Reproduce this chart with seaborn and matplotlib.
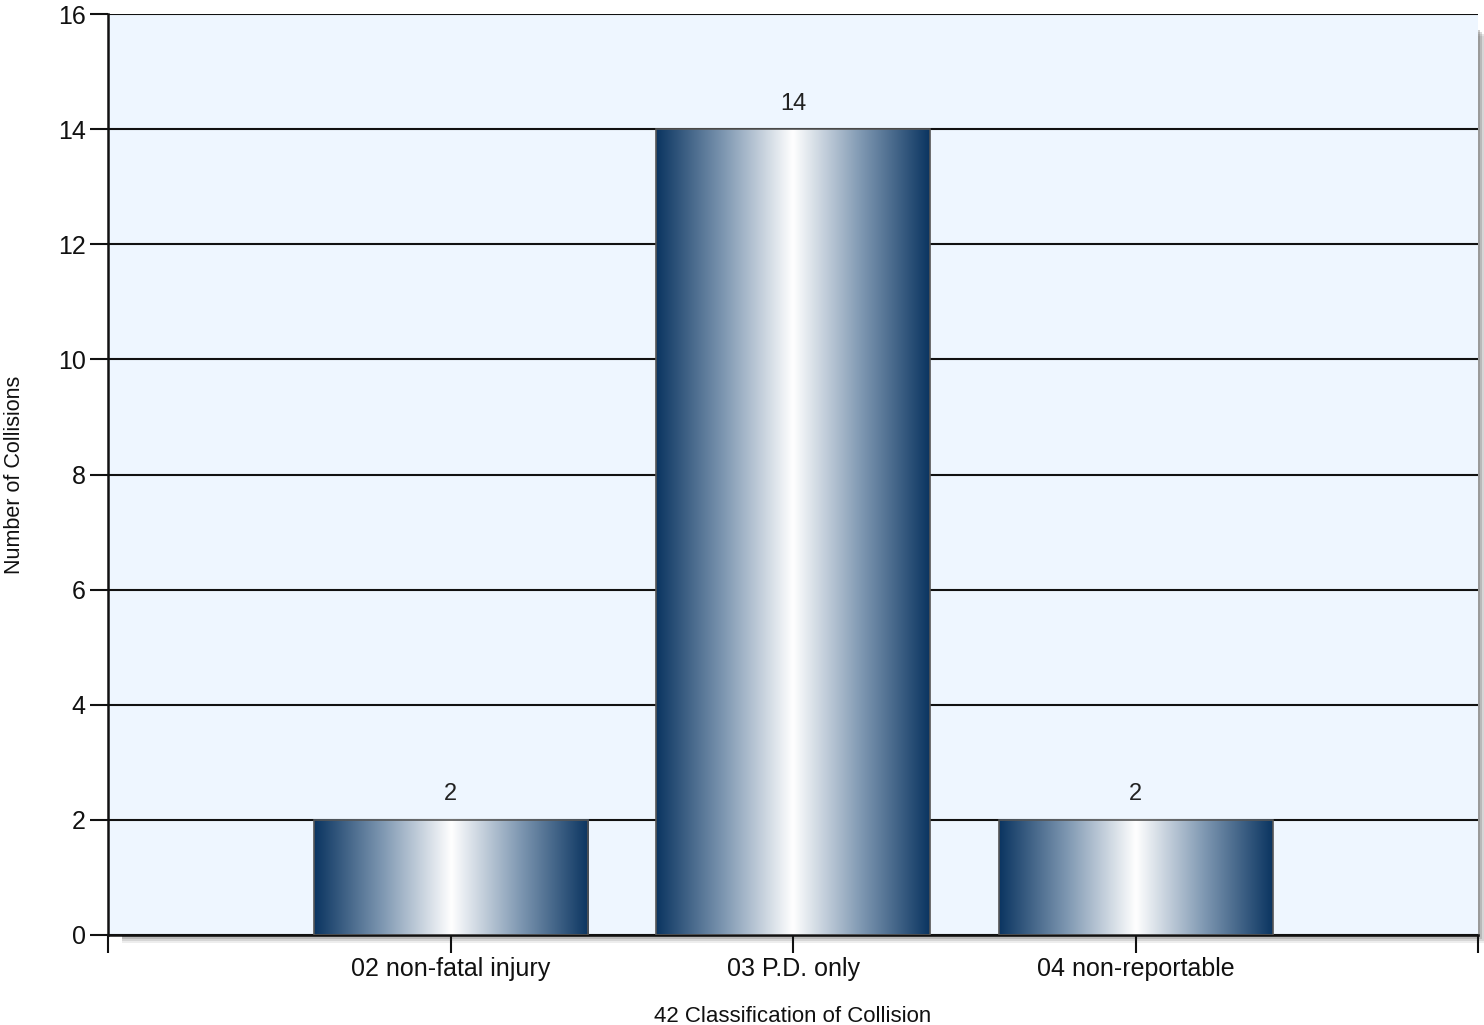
import numpy as np
import matplotlib
matplotlib.use("Agg")
import matplotlib.pyplot as plt
import seaborn as sns
from matplotlib.colors import LinearSegmentedColormap
from matplotlib.patches import Rectangle

categories = ["02 non-fatal injury", "03 P.D. only", "04 non-reportable"]
counts = [2, 14, 2]
y_ticks = [0, 2, 4, 6, 8, 10, 12, 14, 16]

sns.set_style("white")
plt.rcParams["font.family"] = ["Liberation Sans", "DejaVu Sans"]

fig = plt.figure(figsize=(14.84, 10.25), dpi=100)
ax = fig.add_axes([108 / 1484, 90 / 1025, 1370 / 1484, 921 / 1025])
ax.set_facecolor("#eef6ff")

# drop shadow behind plot area
for i, a in enumerate([0.10, 0.15, 0.22, 0.30]):
    off = (8 - 2 * i)
    fig.patches.append(Rectangle(((108 + 14) / 1484, (90 - off) / 1025),
                                 (1370 - 14 + off) / 1484, (921 - 14) / 1025,
                                 transform=fig.transFigure, facecolor="#555555",
                                 alpha=a, edgecolor="none", zorder=-1))

sns.barplot(x=categories, y=counts, ax=ax, width=0.8, color="white",
            edgecolor="#555555", linewidth=1.2, zorder=3)

cmap = LinearSegmentedColormap.from_list("bar", ["#0b3561", "#7f98b2", "#ffffff", "#7f98b2", "#0b3561"])
grad = np.linspace(0, 1, 256).reshape(1, -1)
for p in ax.patches:
    x0, y0 = p.get_x(), p.get_y()
    w, h = p.get_width(), p.get_height()
    ax.imshow(grad, cmap=cmap, extent=(x0, x0 + w, y0, y0 + h), aspect="auto",
              zorder=2.5, interpolation="bicubic")
    p.set_facecolor("none")

for i, v in enumerate(counts):
    ax.text(i, v + 0.25, str(v), ha="center", va="bottom", fontsize=17, color="#222222")

ax.set_xlim(-1, 3)
ax.set_ylim(0, 16)
ax.set_xticks([-1, 0, 1, 2, 3], [""] + categories + [""])
ax.set_yticks(y_ticks)
ax.yaxis.grid(True, color="#111111", linewidth=1.5, zorder=1)
ax.set_axisbelow(True)

for s in ["top", "right"]:
    ax.spines[s].set_visible(False)
for s in ["left", "bottom"]:
    ax.spines[s].set_color("#111111")
    ax.spines[s].set_linewidth(1.8)

ax.tick_params(axis="both", which="both", direction="out", length=13, width=1.5,
               color="#111111", labelsize=18, labelcolor="#111111", pad=3,
               left=True, bottom=True)
ax.set_xlabel("42 Classification of Collision", fontsize=16, labelpad=18, color="#111111")
ax.set_ylabel("Number of Collisions", fontsize=15.5, labelpad=24, color="#111111")

fig.savefig("out.png", dpi=100)
